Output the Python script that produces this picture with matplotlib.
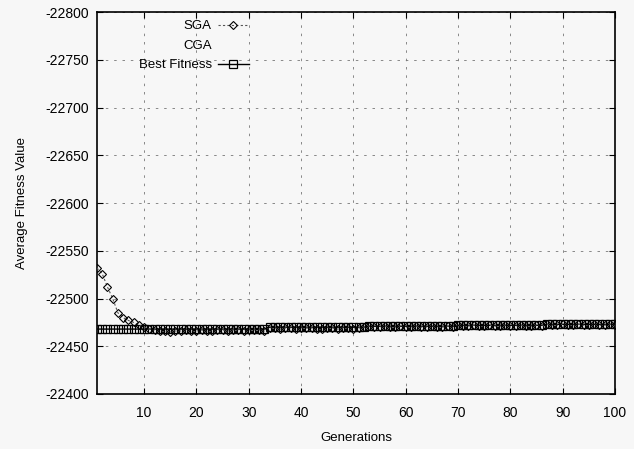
import numpy as np
import matplotlib.pyplot as plt

plt.rcParams['font.family'] = ['Liberation Sans', 'DejaVu Sans']
plt.rcParams['axes.unicode_minus'] = False

generations = np.arange(1, 101)

sga = [-22532, -22526, -22512, -22500, -22485, -22480, -22477, -22475, -22472, -22470,
       -22468, -22467, -22466, -22466, -22465, -22466, -22466, -22467, -22466, -22466,
       -22467, -22466, -22466, -22467, -22467, -22466, -22467, -22467, -22466, -22467,
       -22467, -22467, -22466, -22469, -22469, -22468, -22469, -22469, -22468, -22469,
       -22469, -22469, -22468, -22468, -22469, -22469, -22468, -22469, -22469, -22468,
       -22469, -22470, -22471, -22470, -22470, -22471, -22470, -22470, -22471, -22470,
       -22470, -22471, -22470, -22470, -22471, -22470, -22470, -22471, -22470, -22472,
       -22471, -22471, -22472, -22471, -22471, -22472, -22471, -22471, -22472, -22471,
       -22471, -22472, -22471, -22471, -22472, -22471, -22473, -22472, -22472, -22473,
       -22472, -22472, -22473, -22472, -22472, -22473, -22472, -22472, -22473, -22472]

best = [-22468] * 33 + [-22470] * 19 + [-22471] * 17 + [-22472] * 17 + [-22473] * 14
cga = best

fig = plt.figure(figsize=(6.34, 4.49), dpi=100)
fig.patch.set_facecolor('#f7f7f7')
ax = fig.add_axes([0.153, 0.1225, 0.817, 0.8505])
ax.set_facecolor('#f7f7f7')

ax.plot(generations, sga, color='#555555', linestyle=(0, (2, 2)), linewidth=0.8,
        marker='D', markersize=4.5, markerfacecolor='none', markeredgecolor='black',
        markeredgewidth=0.8, label='SGA', zorder=3)
ax.plot(generations, cga, color='#f7f7f7', linestyle=':', linewidth=0.5,
        label='CGA', zorder=1)
ax.plot(generations, best, color='black', linewidth=1.0,
        marker='s', markersize=6, markerfacecolor='none', markeredgecolor='black',
        markeredgewidth=0.9, label='Best Fitness', zorder=2)

ax.set_xlim(1, 100)
ax.set_ylim(-22400, -22800)
ax.set_xticks(np.arange(10, 101, 10))
ax.set_yticks(np.arange(-22800, -22399, 50))
ax.grid(True, color='#777777', linestyle=(0, (3, 7)), linewidth=0.6)
ax.tick_params(direction='in', top=True, right=True, labelsize=10, length=4)
ax.tick_params(axis='x', pad=9)
ax.tick_params(axis='y', pad=6)
for s in ax.spines.values():
    s.set_linewidth(1.2)

ax.set_xlabel('Generations', fontsize=9.5, labelpad=8)
ax.set_ylabel('Average Fitness Value', fontsize=9.5, labelpad=12)

ax.legend(loc='upper left', bbox_to_anchor=(0.065, 1.0), frameon=False, fontsize=9.5,
          markerfirst=False, handlelength=2.3, handletextpad=0.5, labelspacing=0.55,
          borderaxespad=0.2)
leg = ax.get_legend()
for t in leg.get_texts():
    t.set_ha('right')
leg._legend_box.align = 'right'

fig.savefig('out.png', dpi=100, facecolor=fig.get_facecolor())
